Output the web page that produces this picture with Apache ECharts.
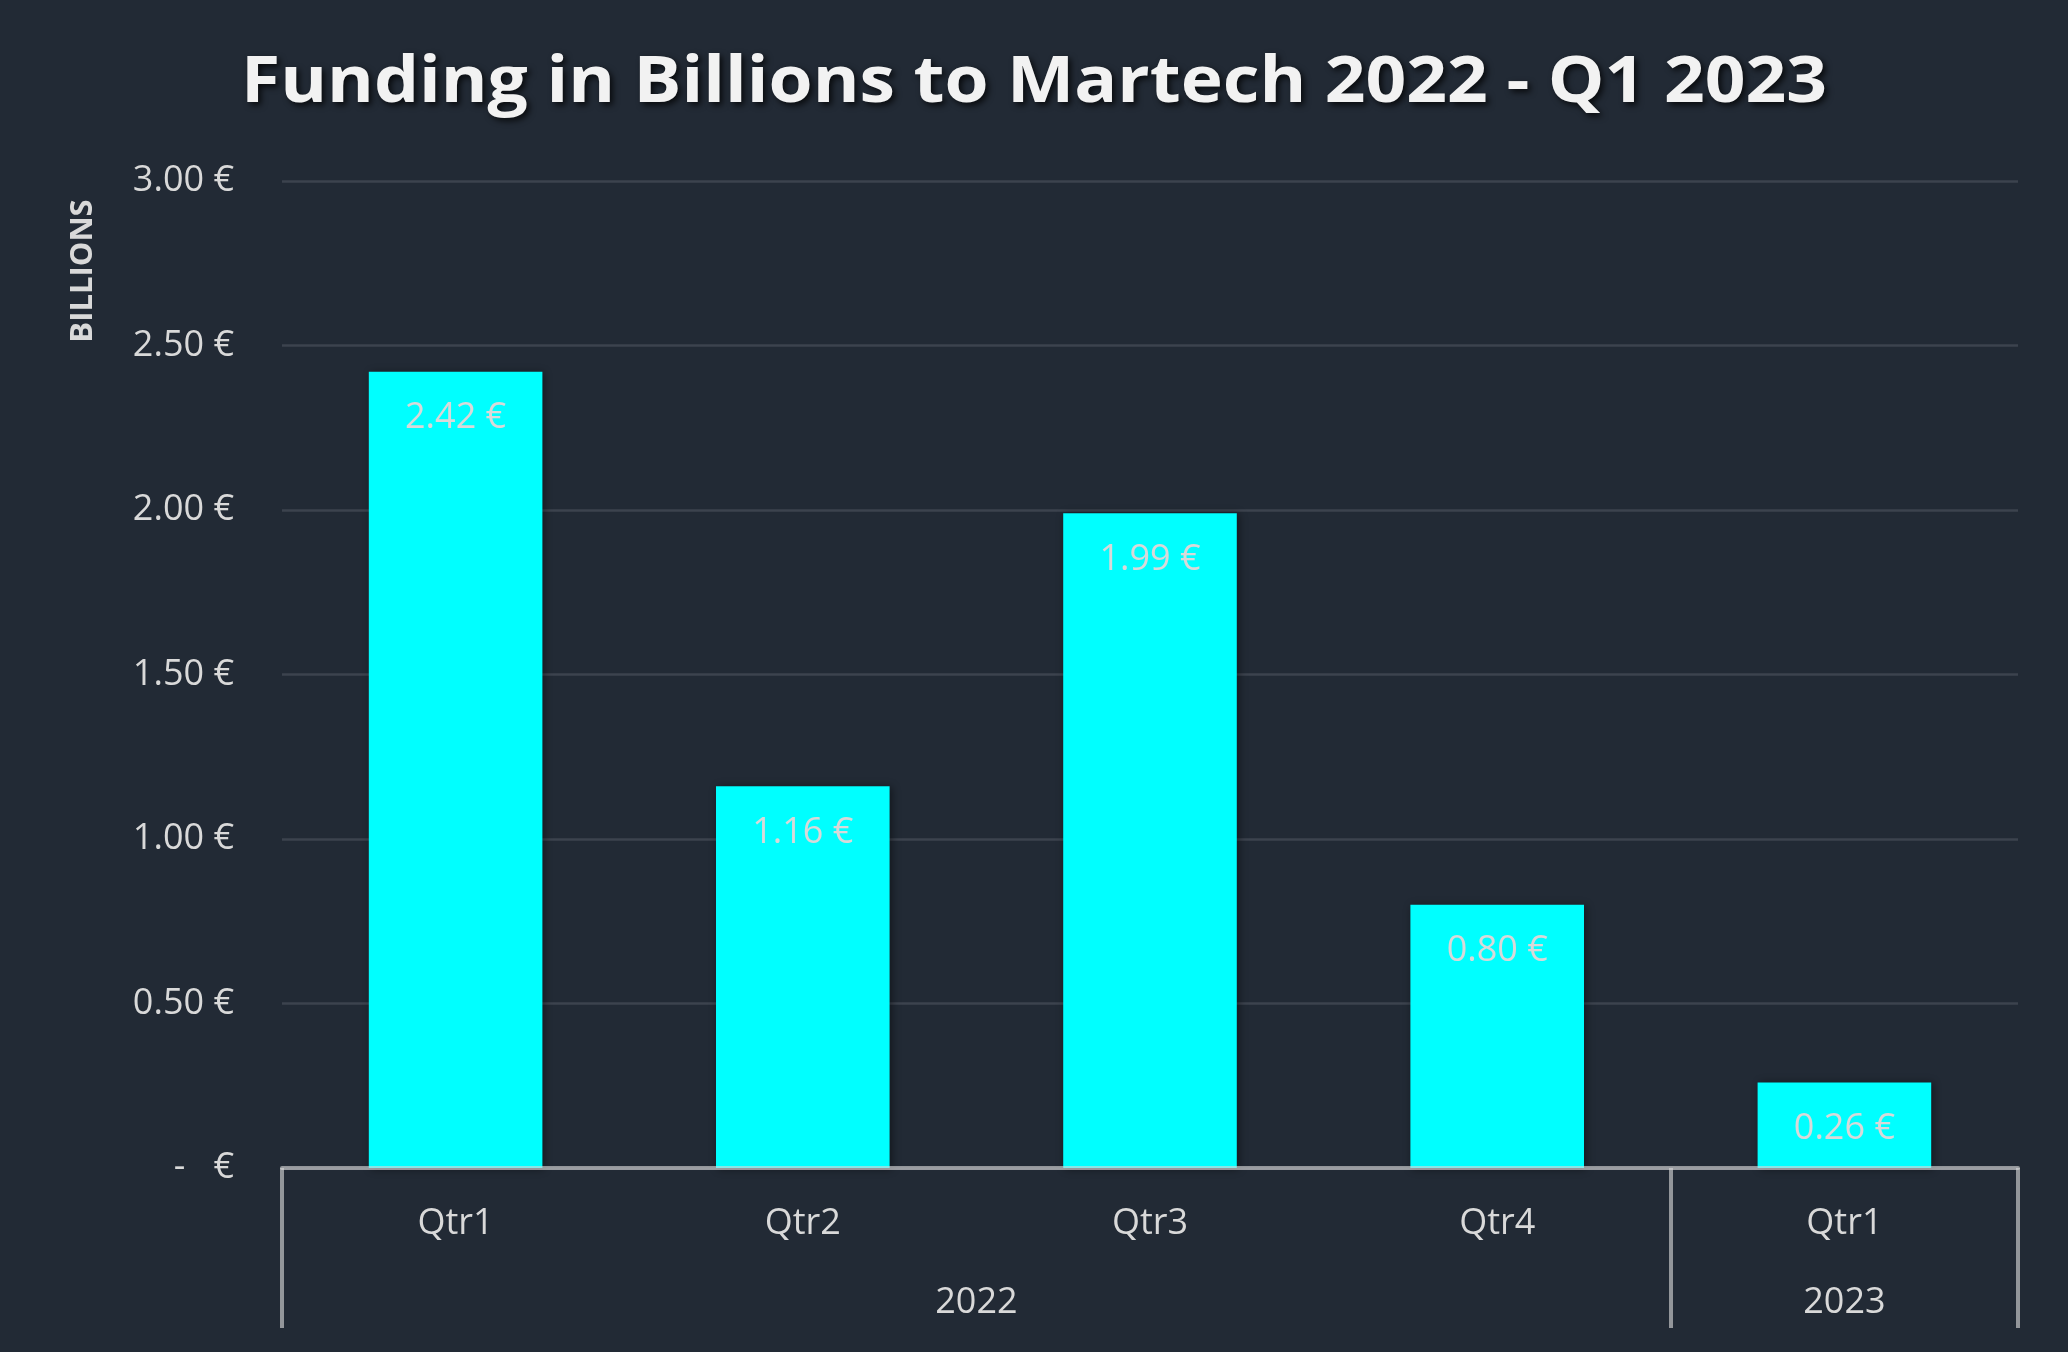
<!DOCTYPE html>
<html>
<head>
<meta charset="utf-8">
<style>
  html, body { margin: 0; padding: 0; background: #222a35; }
  #chart { width: 2068px; height: 1352px; }
</style>
<script src="https://cdn.jsdelivr.net/npm/echarts@6/dist/echarts.min.js"></script>
</head>
<body>
<div id="chart"></div>
<script>
const titleText = 'Funding in Billions to Martech 2022 - Q1 2023';
const quarters = ['Qtr1', 'Qtr2', 'Qtr3', 'Qtr4', 'Qtr1'];
const funding = [2.42, 1.16, 1.99, 0.80, 0.26];
const years = ['2022', '2023'];
const yearSpans = [4, 1];
const yTicks = [0, 0.5, 1, 1.5, 2, 2.5, 3];

const yearBounds = [0];
yearSpans.forEach(s => yearBounds.push(yearBounds[yearBounds.length - 1] + s));
const yearCenters = yearSpans.map((s, i) => yearBounds[i] + s / 2);

const fmtEuro = v => v === 0 ? '-   €' : v.toFixed(2) + ' €';

const chart = echarts.init(document.getElementById('chart'), null, { renderer: 'canvas' });
chart.setOption({
  backgroundColor: '#222a35',
  animation: false,
  graphic: [
    {
      type: 'text',
      x: 1034,
      y: 84,
      scaleX: 1.114,
      scaleY: 1,
      z: 100,
      style: {
        text: titleText,
        fill: '#f2f2f2',
        font: 'bold 64px "Open Sans"',
        align: 'center',
        verticalAlign: 'middle',
        textShadowColor: 'rgba(0,0,0,0.75)',
        textShadowBlur: 6,
        textShadowOffsetX: 3,
        textShadowOffsetY: 3
      }
    },
    {
      type: 'text',
      x: 83,
      y: 271,
      rotation: Math.PI / 2,
      style: {
        text: 'BILLIONS',
        fill: '#d9d9d9',
        font: 'bold 31px "Open Sans"',
        align: 'center',
        verticalAlign: 'middle'
      }
    }
  ],
  grid: { left: 282, right: 50, top: 181, bottom: 184 },
  xAxis: [
    {
      type: 'category',
      data: quarters,
      position: 'bottom',
      axisLine: { show: true, lineStyle: { color: 'rgba(217,217,217,0.62)', width: 4 } },
      axisTick: { show: false },
      axisLabel: { color: '#d9d9d9', fontFamily: 'Open Sans', fontSize: 36, margin: 38 },
      splitLine: { show: false },
      z: 10
    },
    {
      type: 'value',
      min: 0,
      max: yearBounds[yearBounds.length - 1],
      position: 'bottom',
      axisLine: { show: false },
      axisTick: {
        show: true,
        customValues: yearBounds,
        length: 160,
        lineStyle: { color: 'rgba(217,217,217,0.62)', width: 4 }
      },
      axisLabel: {
        show: true,
        customValues: yearCenters,
        formatter: v => {
          const i = yearCenters.indexOf(v);
          return i >= 0 ? years[i] : '';
        },
        color: '#d9d9d9',
        fontFamily: 'Open Sans',
        fontSize: 36,
        margin: 117
      },
      splitLine: { show: false }
    }
  ],
  yAxis: {
    type: 'value',
    min: yTicks[0],
    max: yTicks[yTicks.length - 1],
    interval: 0.5,
    axisLine: { show: false },
    axisTick: { show: false },
    axisLabel: {
      color: '#d9d9d9',
      fontFamily: 'Open Sans',
      fontSize: 36,
      margin: 48,
      formatter: fmtEuro
    },
    splitLine: { show: true, lineStyle: { color: '#3c434e', width: 2.5 } }
  },
  series: [
    {
      type: 'bar',
      data: funding,
      barWidth: '50%',
      itemStyle: {
        color: '#00ffff',
        shadowColor: 'rgba(0,0,0,0.45)',
        shadowBlur: 8,
        shadowOffsetX: 2,
        shadowOffsetY: 1
      },
      label: {
        show: true,
        position: 'insideTop',
        distance: 28,
        color: '#d9d9d9',
        fontFamily: 'Open Sans',
        fontSize: 36,
        formatter: p => fmtEuro(p.value)
      }
    }
  ]
});
</script>
</body>
</html>
